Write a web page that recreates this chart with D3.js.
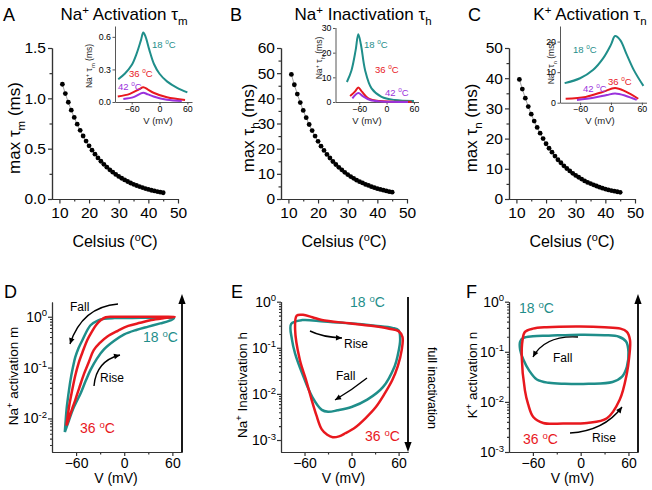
<!DOCTYPE html>
<html><head><meta charset="utf-8">
<script src="https://cdn.jsdelivr.net/npm/d3@7"></script>
<style>
body{margin:0;background:#fff}
svg{display:block}
text{font-family:"Liberation Sans",Arial,Helvetica,sans-serif;white-space:pre}
</style></head>
<body><svg id="c" width="652" height="490"></svg>
<script>
// ---------- DATA ----------
const temps = [11,12,13,14,15,16,17,18,19,20,21,22,23,24,25,26,27,28,29,30,31,32,33,34,35,36,37,38,39,40,41,42,43,44,45];
const maxTauM = [1.14,1.047,0.961,0.882,0.810,0.743,0.682,0.626,0.575,0.528,0.485,0.445,0.408,0.375,0.344,0.316,0.290,0.266,0.244,0.224,0.206,0.189,0.174,0.159,0.146,0.134,0.123,0.113,0.104,0.095,0.087,0.080,0.074,0.068,0.062];
const maxTauH = [49.5,45.4,41.7,38.3,35.2,32.3,29.6,27.2,25.0,22.9,21.0,19.3,17.7,16.3,14.9,13.7,12.6,11.6,10.6,9.7,8.9,8.2,7.5,6.9,6.4,5.8,5.4,4.9,4.5,4.1,3.8,3.5,3.2,2.9,2.7];
const maxTauN = [39.6,36.4,33.4,30.6,28.1,25.8,23.7,21.8,20.0,18.3,16.8,15.5,14.2,13.0,12.0,11.0,10.1,9.3,8.5,7.8,7.2,6.6,6.0,5.5,5.1,4.7,4.3,3.9,3.6,3.3,3.0,2.8,2.6,2.4,2.2];

const celsiusTicks = [10,20,30,40,50];
const voltTicks = [-60,0,60];

// inset curves [V (mV), tau (ms)]
const tauM18 = [[-89,0.21],[-75,0.26],[-60,0.34],[-49,0.45],[-40,0.57],[-35,0.64],[-30,0.60],[-22,0.48],[-12,0.35],[0,0.26],[16,0.19],[38,0.13],[60,0.088]];
const tauM36 = [[-90,0.05],[-64,0.075],[-45,0.115],[-35,0.135],[-25,0.115],[-13,0.085],[16,0.043],[55,0.018]];
const tauM42 = [[-78,0.028],[-56,0.045],[-42,0.075],[-35,0.085],[-25,0.07],[-13,0.05],[16,0.02],[48,0.009]];
const tauH18 = [[-87,8.1],[-77,12.8],[-68,20.8],[-62,27.5],[-56,23],[-47,12.8],[-33,5.5],[-11,2.1],[18,0.8],[60,0.4]];
const tauH36 = [[-80,2.4],[-69,4.3],[-62,5.9],[-54,4.2],[-40,1.5],[-15,0.4],[55,0.1]];
const tauH42 = [[-75,1.5],[-62,3.6],[-52,2.4],[-36,0.8],[-11,0.2],[47,0.05]];
const tauN18 = [[-90,6.4],[-60,8.0],[-35,10.7],[-15,14.6],[0,19],[8,21.8],[18,20.5],[30,16],[45,10.5],[63,5.5]];
const tauN36 = [[-88,1.3],[-49,1.9],[-15,3.6],[8,4.8],[28,3.7],[53,1.3]];
const tauN42 = [[-66,0.9],[-34,1.6],[-8,2.5],[8,3.0],[28,2.3],[50,0.9]];

// gating loops [V (mV), gate]
const loopM18 = [[-74,0.0054],[-69,0.009],[-64,0.015],[-59,0.022],[-54,0.032],[-48,0.055],[-42,0.09],[-34,0.15],[-25,0.23],[-12,0.34],[0,0.45],[15,0.55],[30,0.64],[45,0.74],[55,0.82],[62,0.93],
  [55,0.96],[35,0.955],[10,0.95],[-12,0.94],[-25,0.91],[-33,0.84],[-42,0.68],[-52,0.35],[-57,0.24],[-61,0.16],[-64,0.10],[-67,0.056],[-69.5,0.03],[-71.5,0.017],[-73,0.009],[-74,0.0054]];
const loopM36 = [[-72,0.0072],[-68,0.011],[-64,0.017],[-61,0.023],[-56,0.040],[-50,0.076],[-44,0.13],[-38,0.22],[-30,0.31],[-21,0.41],[-8,0.53],[5,0.66],[20,0.76],[34,0.86],[50,0.94],[63,1.0],
  [45,1.0],[20,1.0],[0,1.0],[-15,1.0],[-23,0.98],[-29,0.86],[-35,0.69],[-40,0.52],[-46,0.35],[-52,0.2],[-57,0.12],[-61,0.07],[-65,0.035],[-68.5,0.018],[-72,0.0072]];
const loopH18 = [[-77,0.33],[-63,0.40],[-35,0.37],[-3,0.34],[30,0.30],[52,0.27],[60,0.24],[62,0.15],[59,0.07],[55,0.04],[40,0.014],[20,0.0075],[0,0.0052],[-18,0.0044],[-30,0.0041],[-38,0.0045],[-50,0.0085],[-63,0.028],[-72,0.075],[-76,0.15]];
const loopH36 = [[-70,0.50],[-62,0.52],[-50,0.46],[-38,0.40],[-3,0.34],[25,0.30],[48,0.26],[60,0.23],[65,0.17],[64,0.09],[59,0.04],[52,0.02],[42,0.01],[31,0.0052],[18,0.003],[5,0.0019],[-8,0.0014],[-16,0.0012],[-24,0.00115],[-31,0.0013],[-38,0.0017],[-45,0.0035],[-51,0.0075],[-58,0.02],[-66,0.055],[-72,0.25]];
const loopN18 = [[-76,0.16],[-72,0.19],[-60,0.205],[-40,0.21],[0,0.22],[30,0.215],[48,0.20],[57,0.16],[60,0.10],[58,0.05],[52,0.032],[40,0.025],[10,0.023],[-20,0.023],[-40,0.024],[-55,0.028],[-65,0.043],[-72,0.07],[-76,0.11]];
const loopN36 = [[-70,0.25],[-60,0.29],[-43,0.31],[-1,0.32],[30,0.31],[50,0.29],[58,0.25],[62,0.17],[61,0.08],[58,0.037],[49,0.011],[33,0.0047],[8,0.0038],[-22,0.0037],[-47,0.0038],[-59.5,0.005],[-66,0.009],[-70,0.017],[-74,0.08],[-73,0.17]];

// ---------- STYLE ----------
const TEAL = "#1f8e8a", RED = "#e8181e", PURPLE = "#9a32dc";
const svg = d3.select("#c");

function rich(g, parts, fs) {
  const t = g.append("text").attr("font-size", fs);
  let shift = 0;
  parts.forEach(p => {
    const s = p.sup ? -0.38 * fs : p.sub ? 0.3 * fs : 0;
    const ts = t.append("tspan").text(p.t).attr("dy", s - shift);
    if (p.sup || p.sub) ts.attr("font-size", fs * 0.68);
    shift = s;
  });
  return t;
}
function styleAxis(g, fs, sw, col) {
  g.select(".domain").attr("stroke", col).attr("stroke-width", sw);
  g.selectAll(".tick line").attr("stroke", col).attr("stroke-width", sw);
  g.selectAll(".tick text").attr("font-size", fs).attr("fill", "#000").attr("font-family", null);
}
function arrowHead(g, tip, dir, len, hw) {
  const [dx, dy] = dir, n = Math.hypot(dx, dy), ux = dx / n, uy = dy / n;
  const bx = tip[0] - ux * len, by = tip[1] - uy * len;
  g.append("path").attr("d", `M${tip[0]},${tip[1]}L${bx - uy * hw},${by + ux * hw}L${bx + uy * hw},${by - ux * hw}Z`).attr("fill", "#000");
}
function curvedArrow(g, p0, c, p1) {
  g.append("path").attr("d", `M${p0[0]},${p0[1]}Q${c[0]},${c[1]} ${p1[0]},${p1[1]}`)
    .attr("fill", "none").attr("stroke", "#000").attr("stroke-width", 1.4);
  arrowHead(g, p1, [p1[0] - c[0], p1[1] - c[1]], 6, 2.8);
}
function degLabel(g, num, x, y, fs, col, anchor) {
  rich(g, [{t: num + " "}, {t: "o", sup: true}, {t: "C"}], fs).attr("x", x).attr("y", y).attr("fill", col).attr("text-anchor", anchor || "start");
}

// ---------- TOP PANELS ----------
const topPanels = [
  {x0: 52, letter: "A", lx: 3, title: [{t:"Na"},{t:"+",sup:true},{t:" Activation τ"}], tsub: "m", tx: 124,
   ylab: [{t:"max τ"},{t:"m",sub:true},{t:" (ms)"}], ylx: 20, yly: 128, vals: maxTauM,
   ydom: [0,1.5], yt: [0,0.5,1.0,1.5], ym: [0.25,0.75,1.25], fmt: d3.format(".1f"),
   inset: {xr:[115,192], xd:[-96,70], yr:[102,26], yd:[0,0.7], yt:[0,0.3,0.6], fmt: d3.format(".1f"),
     series:[[tauM18,TEAL],[tauM36,RED],[tauM42,PURPLE]], sub:"m", ylx:92, yly:66, vx:158,
     labels:[["18",152,48,TEAL],["36",129,77,RED],["42",118,90,PURPLE]]}},
  {x0: 281, letter: "B", lx: 230, title: [{t:"Na"},{t:"+",sup:true},{t:" Inactivation τ"}], tsub: "h", tx: 363,
   ylab: [{t:"max τ"},{t:"h",sub:true},{t:" (ms)"}], ylx: 254, yly: 128, vals: maxTauH,
   ydom: [0,60], yt: [0,10,20,30,40,50,60], ym: [5,15,25,35,45,55], fmt: d3.format("d"),
   inset: {xr:[335.5,418.5], xd:[-112,70], yr:[102,27.5], yd:[0,30.2], yt:[0,10,20,30], fmt: d3.format("d"),
     series:[[tauH18,TEAL],[tauH36,RED],[tauH42,PURPLE]], sub:"h", ylx:322, yly:58, vx:367,
     labels:[["18",364,48,TEAL],["36",375,73,RED],["42",385,96,PURPLE]]}},
  {x0: 509, letter: "C", lx: 468, title: [{t:"K"},{t:"+",sup:true},{t:" Activation τ"}], tsub: "n", tx: 590,
   ylab: [{t:"max τ"},{t:"n",sub:true},{t:" (ms)"}], ylx: 477, yly: 128, vals: maxTauN,
   ydom: [0,50], yt: [0,10,20,30,40,50], ym: [5,15,25,35,45], fmt: d3.format("d"),
   inset: {xr:[560,646.5], xd:[-99,69], yr:[102.7,26], yd:[0,25.1], yt:[0,10,20], fmt: d3.format("d"),
     series:[[tauN18,TEAL],[tauN36,RED],[tauN42,PURPLE]], sub:"n", ylx:554, yly:63, vx:600,
     labels:[["18",573,53,TEAL],["36",608,85,RED],["42",583,92,PURPLE]]}}
];

topPanels.forEach(p => {
  const g = svg.append("g");
  const x = d3.scaleLinear().domain([7.5, 50]).range([p.x0, p.x0 + 126]);
  const y = d3.scaleLinear().domain(p.ydom).range([199, 48]);
  g.append("g").attr("transform", "translate(0,199)").call(d3.axisBottom(x).tickValues([15,25,35,45]).tickSize(2.5).tickSizeOuter(0).tickFormat(""))
    .call(s => styleAxis(s, 15, 1.2, "#333"));
  g.append("g").attr("transform", `translate(${p.x0},0)`).call(d3.axisLeft(y).tickValues(p.ym).tickSize(2.5).tickSizeOuter(0).tickFormat(""))
    .call(s => styleAxis(s, 15, 1.2, "#333"));
  g.append("g").attr("transform", "translate(0,199)").call(d3.axisBottom(x).tickValues(celsiusTicks).tickSize(4.5).tickPadding(3).tickSizeOuter(0))
    .call(s => styleAxis(s, 15.5, 1.2, "#333"));
  g.append("g").attr("transform", `translate(${p.x0},0)`).call(d3.axisLeft(y).tickValues(p.yt).tickSize(4).tickPadding(2).tickSizeOuter(0).tickFormat(p.fmt))
    .call(s => styleAxis(s, 15.5, 1.2, "#333"));
  const pts = temps.map((t, i) => [t, p.vals[i]]);
  g.append("path").datum(pts).attr("d", d3.line().x(d => x(d[0])).y(d => y(d[1])))
    .attr("fill", "none").attr("stroke", "#888").attr("stroke-width", 0.8);
  g.selectAll("circle.pt").data(pts).join("circle").attr("class", "pt")
    .attr("cx", d => x(d[0])).attr("cy", d => y(d[1])).attr("r", 2.4).attr("fill", "#000");
  g.append("text").text(p.letter).attr("x", p.lx).attr("y", 21).attr("font-size", 18);
  // title: main text + separate subscript
  const tMain = rich(g, p.title, 17).attr("y", 20);
  const tSub = g.append("text").text(p.tsub).attr("font-size", 11.5).attr("y", 25);
  const wMain = tMain.node().getComputedTextLength(), wSub = tSub.node().getComputedTextLength();
  const tx0 = p.tx - (wMain + wSub) / 2;
  tMain.attr("x", tx0);
  tSub.attr("x", tx0 + wMain);
  rich(g, p.ylab, 17).attr("text-anchor", "middle").attr("transform", `translate(${p.ylx},${p.yly}) rotate(-90)`);
  rich(g, [{t:"Celsius ("},{t:"o",sup:true},{t:"C)"}], 16).attr("x", p.x0 + 63).attr("y", 247).attr("text-anchor", "middle");
  // inset
  const q = p.inset;
  const ix = d3.scaleLinear().domain(q.xd).range(q.xr);
  const iy = d3.scaleLinear().domain(q.yd).range(q.yr);
  const ig = svg.append("g");
  ig.append("g").attr("transform", `translate(0,${q.yr[0]})`).call(d3.axisBottom(ix).tickValues(voltTicks).tickSize(2.5).tickPadding(1).tickSizeOuter(0))
    .call(s => styleAxis(s, 8.8, 0.9, "#444"));
  ig.append("g").attr("transform", `translate(${q.xr[0]},0)`).call(d3.axisLeft(iy).tickValues(q.yt).tickSize(2.5).tickPadding(1.5).tickSizeOuter(0).tickFormat(q.fmt))
    .call(s => styleAxis(s, 8.8, 0.9, "#444"));
  q.series.forEach(([data, col]) => {
    ig.append("path").datum(data).attr("d", d3.line().x(d => ix(d[0])).y(d => iy(d[1])).curve(d3.curveCatmullRom))
      .attr("fill", "none").attr("stroke", col).attr("stroke-width", 2);
  });
  q.labels.forEach(([n, lx, ly, col]) => degLabel(ig, n, lx, ly, 9.5, col));
  rich(ig, [{t:"Na"},{t:"+",sup:true},{t:" τ"},{t:q.sub,sub:true},{t:" (ms)"}], 8.5).attr("text-anchor", "middle").attr("fill", "#222")
    .attr("transform", `translate(${q.ylx},${q.yly}) rotate(-90)`);
  ig.append("text").text("V (mV)").attr("x", q.vx).attr("y", 124).attr("text-anchor", "middle").attr("font-size", 9.5).attr("fill", "#222");
});

// ---------- BOTTOM PANELS ----------
const botPanels = [
  {x0: 52, x1: 182, letter: "D", lx: 4, ytop: 302, ydom: [Math.pow(10,-2.66), Math.pow(10,0.29)], ydec: [1,0.1,0.01], exps: ["0","-1","-2"],
   ylab: [{t:"Na"},{t:"+",sup:true},{t:" activation m"}], ylx: 18, yly: 376,
   loops: [[loopM18, TEAL, false],[loopM36, RED, false]], arrowUp: true},
  {x0: 281, x1: 408, letter: "E", lx: 231, ytop: 301.7, ydom: [Math.pow(10,-3.26), 1], ydec: [1,0.1,0.01,0.001], exps: ["0","-1","-2","-3"],
   ylab: [{t:"Na"},{t:"+",sup:true},{t:" Inactivation h"}], ylx: 247, yly: 385,
   loops: [[loopH18, TEAL, true],[loopH36, RED, true]], arrowUp: false},
  {x0: 509, x1: 638, letter: "F", lx: 466, ytop: 301.7, ydom: [0.001, 1], ydec: [1,0.1,0.01,0.001], exps: ["0","-1","-2","-3"],
   ylab: [{t:"K"},{t:"+",sup:true},{t:" activation n"}], ylx: 477, yly: 375,
   loops: [[loopN18, TEAL, true],[loopN36, RED, true]], arrowUp: true}
];

botPanels.forEach(p => {
  const g = svg.append("g");
  const x = d3.scaleLinear().domain([-90, 72]).range([p.x0, p.x1]);
  const y = d3.scaleLog().domain(p.ydom).range([452, p.ytop]);
  const minors = [];
  [0.001,0.01,0.1,1].forEach(d => { for (let k = 2; k <= 9; k++) { const v = d * k; if (v > p.ydom[0] && v < p.ydom[1]) minors.push(v); } });
  g.append("g").attr("transform", `translate(${p.x0},0)`).call(d3.axisLeft(y).tickValues(minors).tickSize(2).tickSizeOuter(0).tickFormat(""))
    .call(s => styleAxis(s, 13, 1.1, "#333"));
  g.append("g").attr("transform", `translate(${p.x0},0)`).call(d3.axisLeft(y).tickValues(p.ydec).tickSize(4).tickSizeOuter(0).tickFormat(""))
    .call(s => styleAxis(s, 13, 1.2, "#333"));
  g.append("g").attr("transform", "translate(0,452)").call(d3.axisBottom(x).tickValues([-30,30]).tickSize(2.5).tickSizeOuter(0).tickFormat(""))
    .call(s => styleAxis(s, 13, 1.2, "#333"));
  g.append("g").attr("transform", "translate(0,452)").call(d3.axisBottom(x).tickValues(voltTicks).tickSize(4).tickPadding(2.5).tickSizeOuter(0))
    .call(s => styleAxis(s, 14, 1.2, "#333"));
  p.ydec.forEach((v, i) => {
    rich(g, [{t:"10"},{t:p.exps[i],sup:true}], 14).attr("x", p.x0 - 5).attr("y", y(v) + 5).attr("text-anchor", "end");
  });
  p.loops.forEach(([data, col, closed]) => {
    g.append("path").datum(data)
      .attr("d", d3.line().x(d => x(d[0])).y(d => y(d[1])).curve(closed ? d3.curveCatmullRomClosed.alpha(0.5) : d3.curveCatmullRom.alpha(0.5)))
      .attr("fill", "none").attr("stroke", col).attr("stroke-width", 2.5).attr("stroke-linejoin", "round");
  });
  if (p.arrowUp) {
    g.append("line").attr("x1", p.x1).attr("x2", p.x1).attr("y1", 452).attr("y2", 302).attr("stroke", "#000").attr("stroke-width", 1.8);
    arrowHead(g, [p.x1, 294], [0, -1], 10, 3.6);
  } else {
    g.append("line").attr("x1", p.x1).attr("x2", p.x1).attr("y1", 297).attr("y2", 444).attr("stroke", "#000").attr("stroke-width", 1.8);
    arrowHead(g, [p.x1, 452], [0, 1], 10, 3.6);
  }
  g.append("text").text(p.letter).attr("x", p.lx).attr("y", 298).attr("font-size", 18);
  rich(g, p.ylab, 13.5).attr("text-anchor", "middle").attr("transform", `translate(${p.ylx},${p.yly}) rotate(-90)`);
  g.append("text").text("V (mV)").attr("x", (p.x0 + p.x1) / 2 - 1).attr("y", 483).attr("text-anchor", "middle").attr("font-size", 14);
});

// annotations
const an = svg.append("g");
an.append("text").text("Fall").attr("x", 70).attr("y", 311).attr("font-size", 12);
curvedArrow(an, [118, 304], [82, 307], [70, 344]);
an.append("text").text("Rise").attr("x", 100).attr("y", 382).attr("font-size", 12);
curvedArrow(an, [94, 386], [96, 361], [120, 355]);
degLabel(an, "18", 143, 342, 14, TEAL);
degLabel(an, "36", 80, 433, 14, RED);
curvedArrow(an, [310, 331], [322, 337], [342, 338]);
an.append("text").text("Rise").attr("x", 344).attr("y", 348).attr("font-size", 12);
an.append("text").text("Fall").attr("x", 336).attr("y", 380).attr("font-size", 12);
curvedArrow(an, [367, 378], [352, 390], [335, 400]);
degLabel(an, "18", 350, 307, 14, TEAL);
degLabel(an, "36", 365, 441, 14, RED);
an.append("text").text("full inactivation").attr("font-size", 12.5).attr("text-anchor", "middle")
  .attr("transform", "translate(428,388) rotate(90)");
degLabel(an, "18", 519, 313, 14, TEAL);
an.append("text").text("Fall").attr("x", 553).attr("y", 362).attr("font-size", 12);
curvedArrow(an, [578, 337], [545, 335], [533, 357]);
an.append("text").text("Rise").attr("x", 592).attr("y", 442).attr("font-size", 12);
curvedArrow(an, [570, 433], [604, 431], [622, 407]);
degLabel(an, "36", 523, 444, 14, RED);
</script></body></html>
